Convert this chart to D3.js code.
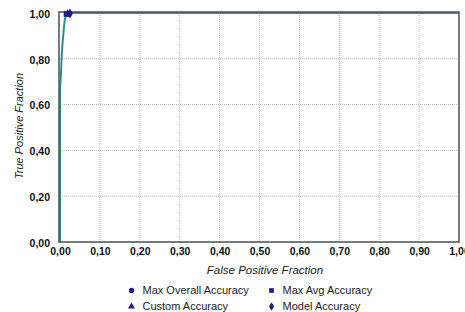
<!DOCTYPE html>
<html>
<head>
<meta charset="utf-8">
<script src="https://cdn.jsdelivr.net/npm/d3@7"></script>
<style>
  body { margin: 0; background: #fff; }
  svg { display: block; font-family: Arial, "Liberation Sans", sans-serif; }
</style>
</head>
<body>
<svg id="chart" width="465" height="312"></svg>
<script>
// ROC curve data
var fpr = [0, 0, 0.001, 0.002, 0.003, 0.004, 0.005, 0.006, 0.008, 0.010, 0.012, 0.015, 0.020, 1.0]
var tpr = [0, 0.65, 0.70, 0.72, 0.76, 0.80, 0.83, 0.86, 0.90, 0.94, 0.97, 0.99, 1.0, 1.0]

// accuracy markers
var markerNames = ["Max Overall Accuracy", "Max Avg Accuracy", "Custom Accuracy", "Model Accuracy"]
var markerFpr = [0.022, 0.016, 0.019, 0.025]
var markerTpr = [0.997, 0.995, 0.996, 0.998]
var markerShapes = [d3.symbolCircle, d3.symbolSquare, d3.symbolTriangle, d3.symbolDiamond]

var xTicks = [0, 0.1, 0.2, 0.3, 0.4, 0.5, 0.6, 0.7, 0.8, 0.9, 1.0]
var yTicks = [0, 0.2, 0.4, 0.6, 0.8, 1.0]

var svg = d3.select('#chart')

var margin = { top: 13, left: 60, right: 459, bottom: 242 }

var x = d3.scaleLinear().domain([0, 1]).range([margin.left, margin.right])
var y = d3.scaleLinear().domain([0, 1]).range([margin.bottom, margin.top])

var fmt = function (d) { return d3.format(".2f")(d).replace(".", ",") }

// vertical grid
svg.append("g")
    .selectAll("line")
    .data(xTicks.slice(1, -1))
    .enter()
    .append("line")
    .attr("x1", function (d) { return x(d) }).attr("x2", function (d) { return x(d) })
    .attr("y1", margin.top).attr("y2", margin.bottom)
    .attr("stroke", "#b8b8b8")
    .attr("stroke-dasharray", "1,1")

// horizontal grid
svg.append("g")
    .selectAll("line")
    .data(yTicks.slice(1, -1))
    .enter()
    .append("line")
    .attr("x1", margin.left).attr("x2", margin.right)
    .attr("y1", function (d) { return y(d) }).attr("y2", function (d) { return y(d) })
    .attr("stroke", "#b8b8b8")
    .attr("stroke-dasharray", "1,1")

// roc curve
var line = d3.line()
    .x(function (d) { return x(d[0]) })
    .y(function (d) { return y(d[1]) })

svg.append("path")
    .datum(d3.zip(fpr, tpr))
    .attr("d", line)
    .attr("fill", "none")
    .attr("stroke", "#2f8f8c")
    .attr("stroke-width", 2)

// frame
svg.append("rect")
    .attr("x", margin.left - 1).attr("y", margin.top - 1)
    .attr("width", margin.right - margin.left + 1)
    .attr("height", margin.bottom - margin.top + 1)
    .attr("fill", "none")
    .attr("stroke", "#555a5a")
    .attr("stroke-width", 1.6)

// markers
svg.append("g")
    .selectAll("path")
    .data(markerNames)
    .enter()
    .append("path")
    .attr("transform", function (d, i) { return "translate(" + x(markerFpr[i]) + "," + y(markerTpr[i]) + ")" })
    .attr("d", function (d, i) { return d3.symbol().type(markerShapes[i]).size(28)() })
    .attr("fill", "#1c1c8a")

// axes
var xAxis = d3.axisBottom(x).tickValues(xTicks).tickSize(0).tickPadding(6)
    .tickFormat(function (d) { return d === 1 ? "1,00" : fmt(d) })
var yAxis = d3.axisLeft(y).tickValues(yTicks).tickSize(0).tickPadding(10).tickFormat(fmt)

var gx = svg.append("g").attr("transform", "translate(0," + margin.bottom + ")").call(xAxis)
var gy = svg.append("g").attr("transform", "translate(" + margin.left + ",0)").call(yAxis)

gx.select(".domain").remove()
gy.select(".domain").remove()
svg.selectAll(".tick text")
    .attr("font-family", "Arial, 'Liberation Sans', sans-serif")
    .attr("font-size", 10.5)
    .attr("font-weight", "bold")
    .attr("fill", "#111")
gy.selectAll(".tick text").attr("dy", "0.4em")

// axis titles
svg.append("text")
    .attr("x", 265)
    .attr("y", 274)
    .attr("text-anchor", "middle")
    .attr("font-size", 11.5)
    .attr("font-style", "italic")
    .attr("fill", "#222")
    .text("False Positive Fraction")

svg.append("text")
    .attr("transform", "translate(23,126) rotate(-90)")
    .attr("text-anchor", "middle")
    .attr("font-size", 11)
    .attr("font-style", "italic")
    .attr("fill", "#222")
    .text("True Positive Fraction")

// legend
var legend = svg.append("g")
    .selectAll("g")
    .data(markerNames)
    .enter()
    .append("g")
    .attr("transform", function (d, i) {
        return "translate(" + (i % 2 === 0 ? 131.5 : 271.5) + "," + (i < 2 ? 290.5 : 306.5) + ")"
    })

legend.append("path")
    .attr("d", function (d, i) { return d3.symbol().type(markerShapes[i]).size(22)() })
    .attr("fill", "#1c1c8a")

legend.append("text")
    .attr("x", 11)
    .attr("dy", "0.35em")
    .attr("font-size", 11)
    .attr("fill", "#222")
    .text(function (d) { return d })
</script>
</body>
</html>
